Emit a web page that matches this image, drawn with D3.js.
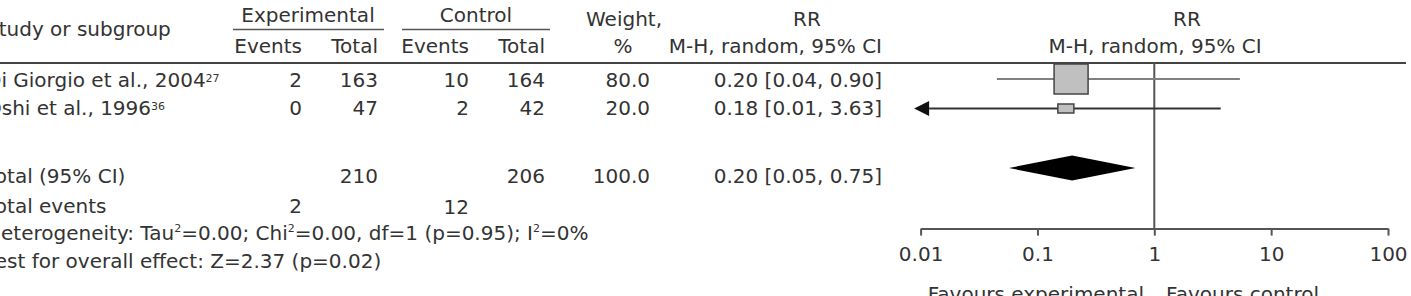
<!DOCTYPE html>
<html><head><meta charset="utf-8">
<script src="https://cdn.jsdelivr.net/npm/d3@7"></script>
<style>
html,body{margin:0;padding:0;background:#fff;}
svg text{font-family:"DejaVu Sans",sans-serif;fill:#333;}
</style></head>
<body><svg id="c" width="1411" height="296"></svg>
<script>
// ---- data ----
const studies = ["Di Giorgio et al., 2004", "Oshi et al., 1996"];
const studyRefs = ["27", "36"];
const expEvents = [2, 0];
const expTotal = [163, 47];
const ctrlEvents = [10, 2];
const ctrlTotal = [164, 42];
const weights = [80.0, 20.0];
const rrText = ["0.20 [0.04, 0.90]", "0.18 [0.01, 3.63]"];
// plotted positions
const rrPoint = [0.194, 0.175];
const ciLow = [0.045, 0.0088];
const ciHigh = [5.4, 3.7];
const arrowLeft = [false, true];
const totalExp = 210, totalCtrl = 206, totalWeight = 100.0;
const totalRRText = "0.20 [0.05, 0.75]";
const pooledEst = 0.198, pooledLow = 0.057, pooledHigh = 0.69;
const totalEventsExp = 2, totalEventsCtrl = 12;
const tickValues = [0.01, 0.1, 1, 10, 100];
const tickLabels = ["0.01", "0.1", "1", "10", "100"];

// ---- layout ----
const svg = d3.select("#c");
const FS = 20;
const x = d3.scaleLog().domain([0.01, 100]).range([920.6, 1388]);
const rowBase = [87, 115];
const rowMid = [79, 108.5];
const colX = {expE: 302, expT: 378, ctrlE: 469, ctrlT: 545, w: 650, rr: 882};
const labelX = -14;

function txt(t, xx, yy, anchor, size) {
  return svg.append("text").attr("x", xx).attr("y", yy)
    .attr("text-anchor", anchor || "start")
    .style("font-size", (size || FS) + "px").text(t);
}

// superscript-aware text: parts [{t:..}|{sup:..}]
function richText(parts, xx, yy, supShift, supSize) {
  const t = txt("", xx, yy);
  let shifted = 0;
  parts.forEach(p => {
    if (p.sup !== undefined) {
      t.append("tspan").attr("dy", -supShift - shifted).style("font-size", supSize + "px").text(p.sup);
      shifted = -supShift;
    } else {
      t.append("tspan").attr("dy", -shifted).text(p.t);
      shifted = 0;
    }
  });
  return t;
}

// headers
txt("Study or subgroup", labelX, 36);
txt("Experimental", 308, 22, "middle");
txt("Control", 476, 22, "middle");
svg.append("line").attr("x1", 233).attr("x2", 384).attr("y1", 29.5).attr("y2", 29.5).attr("stroke", "#555").attr("stroke-width", 1.5);
svg.append("line").attr("x1", 402).attr("x2", 550).attr("y1", 29.5).attr("y2", 29.5).attr("stroke", "#555").attr("stroke-width", 1.5);
txt("Events", colX.expE, 53, "end");
txt("Total", colX.expT, 53, "end");
txt("Events", colX.ctrlE, 53, "end");
txt("Total", colX.ctrlT, 53, "end");
txt("Weight,", 624, 26, "middle");
txt("%", 623, 53, "middle");
txt("RR", 807, 26, "middle");
txt("M-H, random, 95% CI", colX.rr, 53, "end");
txt("RR", 1187, 26, "middle");
txt("M-H, random, 95% CI", 1155, 53, "middle");
svg.append("line").attr("x1", 0).attr("x2", 1406).attr("y1", 63).attr("y2", 63).attr("stroke", "#444").attr("stroke-width", 2);

// study rows
studies.forEach((s, i) => {
  richText([{t: s}, {sup: studyRefs[i]}], labelX, rowBase[i], 5, 11);
  txt(expEvents[i], colX.expE, rowBase[i], "end");
  txt(expTotal[i], colX.expT, rowBase[i], "end");
  txt(ctrlEvents[i], colX.ctrlE, rowBase[i], "end");
  txt(ctrlTotal[i], colX.ctrlT, rowBase[i], "end");
  txt(weights[i].toFixed(1), colX.w, rowBase[i], "end");
  txt(rrText[i], colX.rr, rowBase[i], "end");
});

// totals
txt("Total (95% CI)", labelX, 183);
txt(totalExp, colX.expT, 183, "end");
txt(totalCtrl, colX.ctrlT, 183, "end");
txt(totalWeight.toFixed(1), colX.w, 183, "end");
txt(totalRRText, colX.rr, 183, "end");
txt("Total events", labelX, 213);
txt(totalEventsExp, colX.expE, 213, "end");
txt(totalEventsCtrl, colX.ctrlE, 214, "end");

richText([{t: "Heterogeneity: Tau"}, {sup: "2"}, {t: "=0.00; Chi"}, {sup: "2"}, {t: "=0.00, df=1 (p=0.95); I"}, {sup: "2"}, {t: "=0%"}], labelX, 240, 8, 11);
txt("Test for overall effect: Z=2.37 (p=0.02)", labelX, 268);

// plot
const axisY = 228.6;
svg.append("line").attr("x1", x(1)).attr("x2", x(1)).attr("y1", 63).attr("y2", axisY)
  .attr("stroke", "#555").attr("stroke-width", 2);

const wScale = d3.scaleLinear().domain([20, 80]).range([16, 34]);
const hScale = d3.scaleLinear().domain([20, 80]).range([9, 30]);
const lineColors = ["#808080", "#333"];
studies.forEach((s, i) => {
  const lo = arrowLeft[i] ? x(ciLow[i]) + 15 : x(ciLow[i]);
  svg.append("line").attr("x1", lo).attr("x2", x(ciHigh[i]))
    .attr("y1", rowMid[i]).attr("y2", rowMid[i])
    .attr("stroke", lineColors[i]).attr("stroke-width", 2);
  if (arrowLeft[i]) {
    const tip = x(ciLow[i]);
    svg.append("path")
      .attr("d", `M${tip},${rowMid[i]}L${tip + 15},${rowMid[i] - 7.5}L${tip + 15},${rowMid[i] + 7.5}Z`)
      .attr("fill", "#111");
  }
  const w = wScale(weights[i]), h = hScale(weights[i]);
  svg.append("rect").attr("x", x(rrPoint[i]) - w / 2).attr("y", rowMid[i] - h / 2)
    .attr("width", w).attr("height", h)
    .attr("fill", "#c0c0c0").attr("stroke", "#444").attr("stroke-width", 1.5);
});

const dY = 168, dH = 12.4;
svg.append("path")
  .attr("d", `M${x(pooledLow)},${dY}L${x(pooledEst)},${dY - dH}L${x(pooledHigh)},${dY}L${x(pooledEst)},${dY + dH}Z`)
  .attr("fill", "#000");

const axis = d3.axisBottom(x).tickValues(tickValues)
  .tickFormat((d, i) => tickLabels[i]).tickSize(7).tickSizeOuter(0).tickPadding(11);
const g = svg.append("g").attr("transform", `translate(0,${axisY})`).call(axis);
g.select(".domain").attr("stroke", "#555").attr("stroke-width", 2);
g.selectAll(".tick line").attr("stroke", "#555").attr("stroke-width", 2);
g.selectAll(".tick text").style("font-size", FS + "px").style("font-family", '"DejaVu Sans",sans-serif').attr("fill", "#333");

txt("Favours experimental", 1144, 301, "end");
txt("Favours control", 1166, 301, "start");
</script></body></html>
